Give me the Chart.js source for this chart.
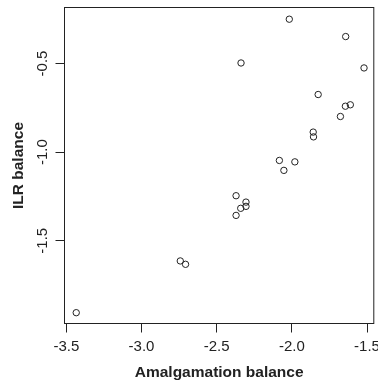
<!DOCTYPE html>
<html>
<head>
<meta charset="utf-8">
<script src="https://cdn.jsdelivr.net/npm/chart.js@4"></script>
<style>
  html, body { margin: 0; padding: 0; background: #fff; }
  #wrap { width: 378px; height: 383px; }
</style>
</head>
<body>
<div id="wrap"><canvas id="scatter" width="378" height="383"></canvas></div>
<script>
// values
const amalgamation = [-2.017, -1.642, -2.338, -1.520, -1.825, -1.644, -1.611, -1.677, -1.858, -1.856,
                      -2.083, -1.980, -2.053, -2.371, -2.305, -2.305, -2.340, -2.371, -2.742, -2.707, -3.434];
const ilr = [-0.250, -0.348, -0.497, -0.525, -0.675, -0.741, -0.733, -0.799, -0.887, -0.914,
             -1.047, -1.055, -1.103, -1.246, -1.282, -1.306, -1.317, -1.357, -1.614, -1.633, -1.906];

const xTicks = [-3.5, -3.0, -2.5, -2.0, -1.5];
const yTicks = [-1.5, -1.0, -0.5];

const xTitle = 'Amalgamation balance';
const yTitle = 'ILR balance';

const ink = '#222';
const fontFamily = '"Liberation Sans", Arial, sans-serif';

// draws the full box round the plot region (R style)
const boxPlugin = {
  id: 'plotBox',
  afterDraw(chart) {
    const { ctx, chartArea: a } = chart;
    ctx.save();
    ctx.strokeStyle = ink;
    ctx.lineWidth = 1;
    ctx.strokeRect(a.left, a.top, a.right - a.left, a.bottom - a.top);
    ctx.restore();
  }
};

function init() {
  const points = amalgamation.map((x, i) => ({ x: x, y: ilr[i] }));

  new Chart(document.getElementById('scatter'), {
    type: 'scatter',
    data: {
      datasets: [{
        data: points,
        pointStyle: 'circle',
        pointRadius: 3.2,
        pointHoverRadius: 3.2,
        borderWidth: 1,
        borderColor: ink,
        backgroundColor: 'rgba(0,0,0,0)'
      }]
    },
    options: {
      responsive: false,
      animation: false,
      events: [],
      layout: { padding: { top: 7.5, right: 3.5, left: 0, bottom: 0 } },
      plugins: { legend: { display: false }, tooltip: { enabled: false } },
      scales: {
        x: {
          type: 'linear',
          min: -3.512,
          max: -1.455,
          afterBuildTicks: s => { s.ticks = xTicks.map(v => ({ value: v })); },
          afterFit: s => { s.height = 59.5; s.paddingLeft = 0; s.paddingRight = 0; },
          border: { display: false },
          grid: { drawOnChartArea: false, drawTicks: true, tickLength: 9, color: ink },
          ticks: {
            autoSkip: false,
            maxRotation: 0,
            padding: 5,
            color: ink,
            font: { family: fontFamily, size: 15 },
            callback: v => v.toFixed(1)
          },
          title: {
            display: true,
            text: xTitle,
            color: ink,
            font: { family: fontFamily, size: 15.5, weight: 'bold' },
            padding: { top: 0, bottom: 1 }
          }
        },
        y: {
          type: 'linear',
          min: -1.967,
          max: -0.184,
          afterBuildTicks: s => { s.ticks = yTicks.map(v => ({ value: v })); },
          afterFit: s => { s.width = 64.5; s.paddingTop = 0; s.paddingBottom = 0; },
          border: { display: false },
          grid: { drawOnChartArea: false, drawTicks: true, tickLength: 9, color: ink },
          ticks: {
            autoSkip: false,
            minRotation: 90,
            maxRotation: 90,
            crossAlign: 'center',
            padding: 0,
            color: ink,
            font: { family: fontFamily, size: 15 },
            callback: v => v.toFixed(1)
          },
          title: {
            display: true,
            text: yTitle,
            color: ink,
            font: { family: fontFamily, size: 15.5, weight: 'bold' },
            padding: { top: 9, bottom: 0 }
          }
        }
      }
    },
    plugins: [boxPlugin]
  });
}

if (document.readyState === 'loading') {
  document.addEventListener('DOMContentLoaded', init);
} else {
  init();
}
</script>
</body>
</html>
